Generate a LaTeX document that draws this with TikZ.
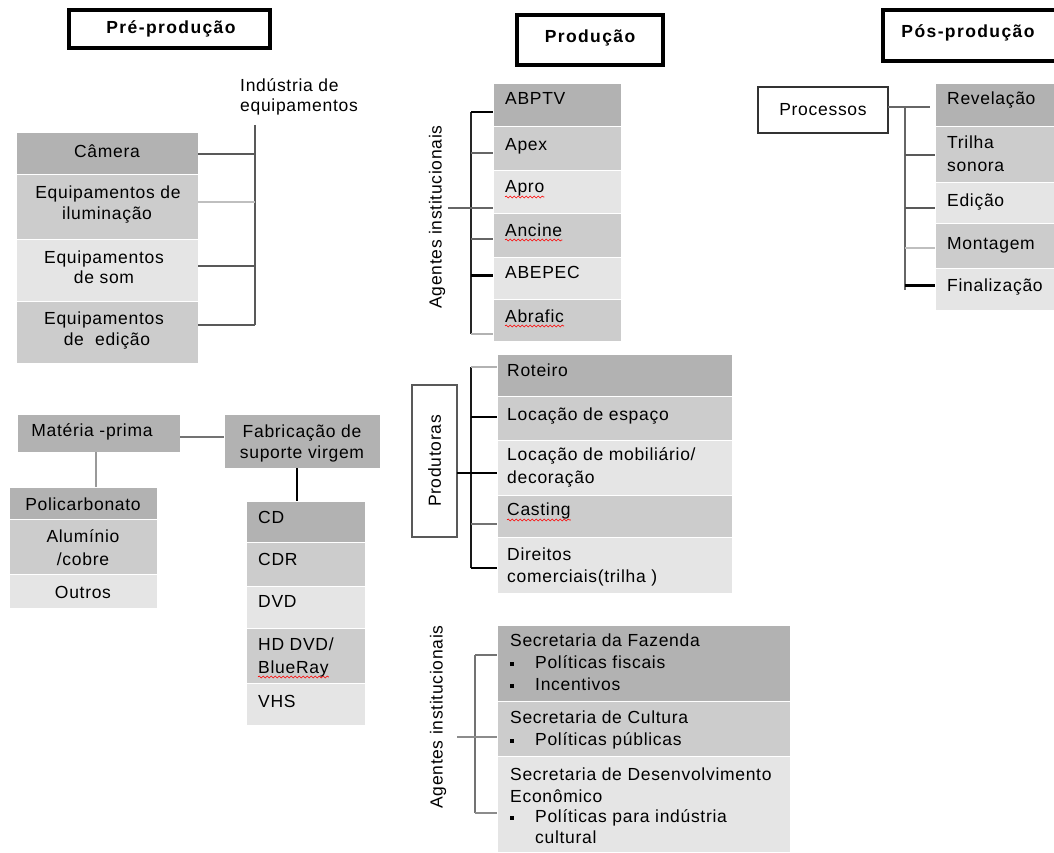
\documentclass[tikz,border=0pt]{standalone}
\usepackage{fontspec}
\setmainfont[LetterSpace=4]{Liberation Sans}
\usetikzlibrary{fit,decorations.pathmorphing}
\definecolor{gA}{HTML}{B2B2B2}
\definecolor{gB}{HTML}{CCCCCC}
\definecolor{gC}{HTML}{E5E5E5}
\newcommand\mybox[6]{\node[#1, fit={(#3,#4) (#5,#6)}] (#2) {};}
\newcommand\bul{\rule[2.5pt]{4pt}{4pt}}
\begin{document}
\begin{tikzpicture}[x=1pt,y=-1pt,
  bx/.style={inner sep=0pt, outer sep=0pt, draw=white, line width=1pt},
  dk/.style={bx, fill=gA}, md/.style={bx, fill=gB}, lt/.style={bx, fill=gC},
  tx/.style={inner sep=0pt, anchor=base west, font=\fontsize{17.5}{20.5}\selectfont},
  tc/.style={tx, anchor=base},
  ht/.style={inner sep=0pt, anchor=base, font=\fontsize{17.5}{20}\selectfont\bfseries\addfontfeatures{LetterSpace=8}},
  hdr/.style={draw=black, line width=3.5pt, fill=white, inner sep=0pt, outer sep=0pt},
  shd/.style={fill=black!35},
  cn/.style={line width=2pt, draw=#1},
  cn/.default=black!65,
  sq/.style={draw=red, line width=0.6pt, decorate, decoration={snake, amplitude=1pt, segment length=4pt}},
  vl/.style={inner sep=0pt, rotate=90, font=\fontsize{17.5}{20.5}\selectfont}]
\useasboundingbox (0,0) rectangle (1054,853);
\clip (0,0) rectangle (1054,853);

% ---------- headers ----------
\fill[shd] (71,12) rectangle (272,50);
\node[hdr, fit={(69,10) (270,48)}] (preh) {};
\node[ht] (preh-t) at (171,34) {Pré-produção};
\fill[shd] (519,17) rectangle (665,67);
\node[hdr, fit={(517,15) (663,65)}] (proh) {};
\node[ht] (proh-t) at (590,43) {Produção};
\fill[shd] (885,12) rectangle (1068,63);
\node[hdr, fit={(883,10) (1066,61)}] (posh) {};
\node[ht] (posh-t) at (968,38) {Pós-produção};

% ---------- Pre-producao: equipamentos ----------
\node[tx] (ind1) at (240,92) {Indústria de};
\node[tx] (ind2) at (240,112) {equipamentos};
\mybox{dk}{cam}{16}{133}{198}{175}
\mybox{md}{ilu}{16}{175}{198}{239}
\mybox{lt}{som}{16}{239}{198}{301}
\mybox{md}{edi}{16}{301}{198}{363}
\node[tc] (cam-t) at (107,158) {Câmera};
\node[tc] (ilu-t1) at (108,199) {Equipamentos de};
\node[tc] (ilu-t2) at (107,219) {iluminação};
\node[tc] (som-t1) at (104,263) {Equipamentos};
\node[tc] (som-t2) at (104,283) {de som};
\node[tc] (edi-t1) at (104,324) {Equipamentos};
\node[tc] (edi-t2) at (107,345) {de\ \ edição};
\coordinate (indtop) at (255,125);
\coordinate (indbot) at (255,325);
\draw[cn=black!65] (indtop) -- (indbot);
\draw[cn=black!65] (cam.east) -- (cam.east -| indtop);
\draw[cn=black!25] ([yshift=5.5pt]ilu.east) -- ([yshift=5.5pt]ilu.east -| indtop);
\draw[cn=black!65] ([yshift=4pt]som.east) -- ([yshift=4pt]som.east -| indtop);
\draw[cn=black!65] ([yshift=7pt]edi.east) -- (indbot);

% ---------- Materia-prima ----------
\mybox{dk}{mat}{17}{414}{180}{452}
\mybox{dk}{fab}{224}{414}{380}{468}
\node[tc] (mat-t) at (92,436) {Matéria -prima};
\node[tc] (fab-t1) at (302,437) {Fabricação de};
\node[tc] (fab-t2) at (302,458) {suporte virgem};
\draw[cn=black!55] ([yshift=-4pt]mat.east) -- ([yshift=4pt]fab.west);
\mybox{dk}{poli}{9}{487}{157}{519}
\mybox{md}{alu}{9}{519}{157}{574}
\mybox{lt}{out}{9}{574}{157}{608}
\node[tc] (poli-t) at (83,510) {Policarbonato};
\node[tc] (alu-t1) at (83,542) {Alumínio};
\node[tc] (alu-t2) at (83,565) {/cobre};
\node[tc] (out-t) at (83,598) {Outros};
\draw[cn=black!40] ([xshift=-2.5pt]mat.south) -- ([xshift=-2.5pt]mat.south |- poli.north);
\mybox{dk}{cd}{246}{501}{365}{542}
\mybox{md}{cdr}{246}{542}{365}{586}
\mybox{lt}{dvd}{246}{586}{365}{628}
\mybox{md}{hd}{246}{628}{365}{683}
\mybox{lt}{vhs}{246}{683}{365}{725}
\node[tx] (cd-t) at (258,523) {CD};
\node[tx] (cdr-t) at (258,565) {CDR};
\node[tx] (dvd-t) at (258,607) {DVD};
\node[tx] (hd-t1) at (258,650) {HD DVD/};
\node[tx] (hd-t2) at (258,673) {BlueRay};
\node[tx] (vhs-t) at (258,707) {VHS};
\draw[sq] ([yshift=-4pt]hd-t2.base west) -- ([yshift=-4pt]hd-t2.base east);
\draw[cn=black] ([xshift=-5pt]fab.south) -- ([xshift=-5pt]fab.south |- cd.north);

% ---------- Producao: agentes ----------
\mybox{dk}{abptv}{493}{84}{621}{127}
\mybox{md}{apex}{493}{127}{621}{171}
\mybox{lt}{apro}{493}{171}{621}{213}
\mybox{md}{ancine}{493}{213}{621}{257}
\mybox{lt}{abepec}{493}{257}{621}{299}
\mybox{md}{abrafic}{493}{299}{621}{341}
\node[tx] (abptv-t) at (505,105) {ABPTV};
\node[tx] (apex-t) at (505,151) {Apex};
\node[tx] (apro-t) at (505,193) {Apro};
\node[tx] (ancine-t) at (505,236) {Ancine};
\node[tx] (abepec-t) at (505,278) {ABEPEC};
\node[tx] (abrafic-t) at (505,322) {Abrafic};
\draw[sq] ([yshift=-4pt]apro-t.base west) -- ([yshift=-4pt]apro-t.base east);
\draw[sq] ([yshift=-4pt]ancine-t.base west) -- ([yshift=-4pt]ancine-t.base east);
\draw[sq] ([yshift=-4pt]abrafic-t.base west) -- ([yshift=-4pt]abrafic-t.base east);
\node[vl] (ag1) at (437,217) {Agentes institucionais};
\coordinate (agtop) at (471,112);
\coordinate (agbot) at (471,334);
\coordinate (agmid) at (448,208);
\draw[line width=2.5pt, draw=black!85] (agtop) -- (agbot);
\draw[cn=black] (agtop) -- (agtop -| abptv.west);
\draw[cn=black!60] ([yshift=-4pt]apex.east -| agtop) -- ([yshift=-4pt]apex.west);
\draw[cn=black!60] (agmid) -- (agmid -| apro.west);
\draw[cn=black!60] ([yshift=-4pt]ancine.west -| agtop) -- ([yshift=-4pt]ancine.west);
\draw[line width=3pt, draw=black] ([yshift=3pt]abepec.west -| agtop) -- ([yshift=3pt]abepec.west);
\draw[cn=black!30] (agbot) -- (agbot -| abrafic.west);

% ---------- Pos-producao ----------
\node[draw=black!80, line width=1.5pt, fill=white, fit={(758,87) (888,133)}, inner sep=0pt, outer sep=0pt] (proc) {};
\node[tc] (proc-t) at (823,116) {Processos};
\mybox{dk}{rev}{935}{84}{1060}{127}
\mybox{md}{tri}{935}{127}{1060}{183}
\mybox{lt}{edc}{935}{183}{1060}{223}
\mybox{md}{mon}{935}{223}{1060}{268}
\mybox{lt}{fin}{935}{268}{1060}{310}
\node[tx] (rev-t) at (947,105) {Revelação};
\node[tx] (tri-t1) at (947,149) {Trilha};
\node[tx] (tri-t2) at (947,172) {sonora};
\node[tx] (edc-t) at (947,206) {Edição};
\node[tx] (mon-t) at (947,249) {Montagem};
\node[tx] (fin-t) at (947,291) {Finalização};
\coordinate (ptop) at (905,107);
\coordinate (pbot) at (905,290);
\draw[line width=2.5pt, draw=black!60] ([yshift=3pt]proc.east) -- ([xshift=-5pt]rev.west |- ptop);
\draw[line width=2.5pt, draw=black!60] (ptop) -- (pbot);
\draw[cn=black!65] (ptop |- tri.west) -- (tri.west);
\draw[cn=black!65] ([yshift=-5pt]ptop |- edc.west) -- ([yshift=-5pt]edc.west);
\draw[cn=black!25] ([yshift=-2.5pt]ptop |- mon.west) -- ([yshift=-2.5pt]mon.west);
\draw[line width=3pt, draw=black] ([yshift=4pt]ptop |- fin.west) -- ([yshift=4pt]fin.west);

% ---------- Produtoras ----------
\node[draw=black!65, line width=1.5pt, fill=white, fit={(412,385) (457,537)}, inner sep=0pt, outer sep=0pt] (prd) {};
\node[vl] (prd-t) at (prd.center) {Produtoras};
\mybox{dk}{rot}{497}{354}{732}{396}
\mybox{md}{esp}{497}{396}{732}{440}
\mybox{lt}{mob}{497}{440}{732}{495}
\mybox{md}{cas}{497}{495}{732}{537}
\mybox{lt}{dir}{497}{537}{732}{593}
\node[tx] (rot-t) at (507,376) {Roteiro};
\node[tx] (esp-t) at (507,420) {Locação de espaço};
\node[tx] (mob-t1) at (507,460) {Locação de mobiliário/};
\node[tx] (mob-t2) at (507,483) {decoração};
\node[tx] (cas-t) at (507,515) {Casting};
\node[tx] (dir-t1) at (507,560) {Direitos};
\node[tx] (dir-t2) at (507,582) {comerciais(trilha )};
\draw[sq] ([yshift=-5pt]cas-t.base west) -- ([yshift=-5pt]cas-t.base east);
\coordinate (prtop) at (471,367);
\coordinate (prbot) at (471,568);
\draw[line width=2.5pt, draw=black!90] (prtop) -- (prbot);
\draw[cn=black!30] (prtop) -- (prtop -| rot.west);
\draw[cn=black] ([yshift=1pt]esp.west -| prtop) -- ([yshift=1pt]esp.west);
\draw[cn=black] ([yshift=-12pt]prd.east) -- ([yshift=-5.5pt]mob.west);
\draw[cn=black!55] ([yshift=-8pt]cas.west -| prtop) -- ([yshift=-8pt]cas.west);
\draw[cn=black] (prbot) -- (prbot -| dir.west);

% ---------- Secretarias ----------
\mybox{dk}{faz}{497}{625}{790}{701}
\mybox{md}{cul}{497}{701}{790}{756}
\mybox{lt}{des}{497}{756}{790}{852}
\node[tx] (faz-t1) at (510,646) {Secretaria da Fazenda};
\node[tx] (faz-t2) at (510,668) {\bul\hspace{21pt}Políticas fiscais};
\node[tx] (faz-t3) at (510,690) {\bul\hspace{21pt}Incentivos};
\node[tx] (cul-t1) at (510,723) {Secretaria de Cultura};
\node[tx] (cul-t2) at (510,745) {\bul\hspace{21pt}Políticas públicas};
\node[tx] (des-t1) at (510,780) {Secretaria de Desenvolvimento};
\node[tx] (des-t2) at (510,802) {Econômico};
\node[tx] (des-t3) at (510,822) {\bul\hspace{21pt}Políticas para indústria};
\node[tx] (des-t4) at (535,843) {cultural};
\node[vl] (ag2) at (438,717) {Agentes institucionais};
\coordinate (stop) at (475,655);
\coordinate (sbot) at (475,813);
\coordinate (smid) at (457,737);
\draw[cn=black!55] (stop) -- (sbot);
\draw[cn=black!55] (stop) -- (stop -| faz.west);
\draw[cn=black!45] (smid) -- (smid -| cul.west);
\draw[cn=black!45] (sbot) -- (sbot -| des.west);
\end{tikzpicture}
\end{document}
